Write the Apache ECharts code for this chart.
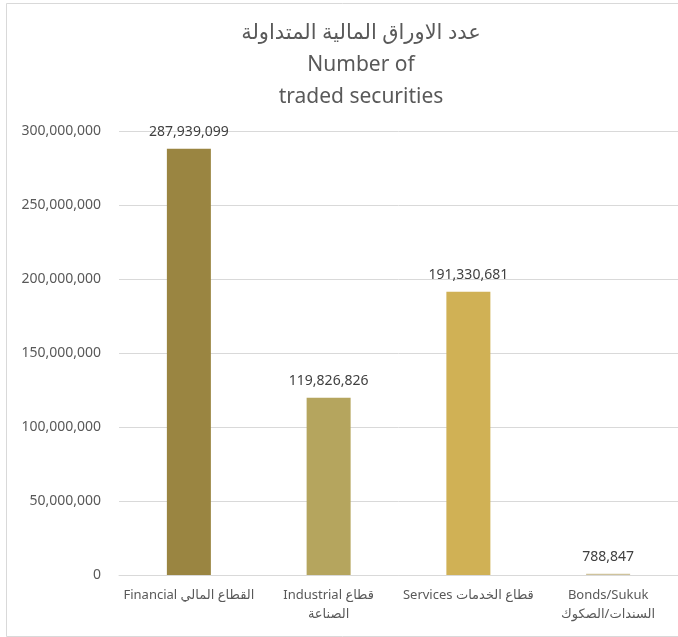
<!DOCTYPE html>
<html>
<head>
<meta charset="utf-8">
<script src="https://cdn.jsdelivr.net/npm/echarts@6/dist/echarts.min.js"></script>
<style>
html,body{margin:0;padding:0;background:#fff;}
#c{width:678px;height:637px;}
</style>
</head>
<body>
<div id="c"></div>
<script>
const titleLines = ['عدد الاوراق المالية المتداولة', 'Number of', 'traded securities'];
const categories = ['Financial القطاع المالي', 'Industrial قطاع\nالصناعة', 'Services قطاع الخدمات', 'Bonds/Sukuk\nالسندات/الصكوك'];
const values = [287939099, 119826826, 191330681, 788847];
const barColors = ['#9a8541', '#b5a55e', '#d0b155', '#cfc39c'];
const yTicks = [0, 50000000, 100000000, 150000000, 200000000, 250000000, 300000000];

const FONT = '"Noto Sans", "DejaVu Sans", sans-serif';
const fmt = v => Number(v).toLocaleString('en-US');

const chart = echarts.init(document.getElementById('c'));
chart.setOption({
  backgroundColor: '#ffffff',
  animation: false,
  title: {
    text: titleLines.join('\n'),
    left: 356,
    top: 12,
    textAlign: 'center',
    textStyle: { fontFamily: FONT, fontSize: 21, fontWeight: 'normal', color: '#595959', lineHeight: 32 }
  },
  graphic: [{
    type: 'rect', left: 4, top: 1, silent: true,
    shape: { width: 672, height: 633 },
    style: { fill: 'none', stroke: '#d9d9d9', lineWidth: 1 }
  }],
  grid: { left: 119, right: 0, top: 131, bottom: 62, containLabel: false },
  xAxis: {
    type: 'category',
    data: categories,
    axisLine: { lineStyle: { color: '#d9d9d9', width: 1 } },
    axisTick: { show: false },
    axisLabel: { interval: 0, margin: 11, fontFamily: FONT, fontSize: 13, color: '#595959', lineHeight: 19 }
  },
  yAxis: {
    type: 'value',
    min: yTicks[0],
    max: yTicks[yTicks.length - 1],
    interval: yTicks[1] - yTicks[0],
    axisLine: { show: false },
    axisTick: { show: false },
    splitLine: { lineStyle: { color: '#d9d9d9', width: 1 } },
    axisLabel: { margin: 18, fontFamily: FONT, fontSize: 14, color: '#595959', formatter: v => fmt(v) }
  },
  series: [{
    type: 'bar',
    barWidth: 44,
    data: values.map((v, i) => ({ value: v, itemStyle: { color: barColors[i] } })),
    label: {
      show: true, position: 'top', distance: 10,
      fontFamily: FONT, fontSize: 14, color: '#404040',
      formatter: p => fmt(p.value)
    }
  }]
});
</script>
</body>
</html>
